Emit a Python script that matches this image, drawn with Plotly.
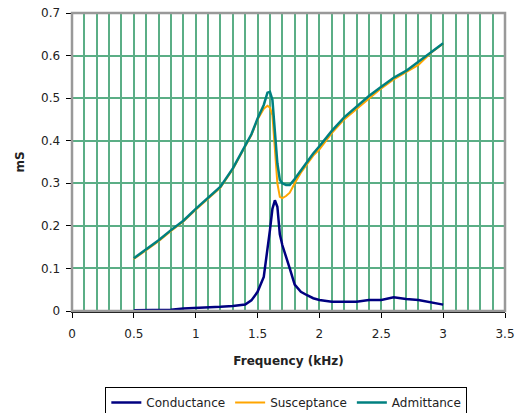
import plotly.graph_objects as go

freq = [0.5, 0.6, 0.7, 0.8, 0.9, 1.0, 1.1, 1.2, 1.3, 1.4, 1.45, 1.5, 1.55, 1.58, 1.6, 1.62,
        1.64, 1.66, 1.68, 1.70, 1.73, 1.76, 1.80, 1.85, 1.90, 1.95, 2.0, 2.1, 2.2, 2.3,
        2.4, 2.5, 2.6, 2.7, 2.8, 2.9, 3.0]

conductance = [0.002, 0.002, 0.002, 0.003, 0.006, 0.007, 0.008, 0.010, 0.012, 0.015, 0.025,
               0.045, 0.08, 0.14, 0.19, 0.24, 0.26, 0.245, 0.18, 0.155, 0.13, 0.10, 0.062,
               0.045, 0.037, 0.030, 0.026, 0.022, 0.022, 0.022, 0.026, 0.026, 0.032, 0.028,
               0.026, 0.020, 0.015]

susceptance = [0.122, 0.143, 0.164, 0.188, 0.210, 0.238, 0.263, 0.290, 0.333, 0.388, 0.413,
               0.450, 0.475, 0.482, 0.478, 0.460, 0.390, 0.300, 0.268, 0.265, 0.270, 0.278,
               0.300, 0.325, 0.345, 0.365, 0.380, 0.418, 0.450, 0.475, 0.500, 0.523, 0.544,
               0.560, 0.578, 0.606, 0.628]

admittance = [0.124, 0.145, 0.166, 0.190, 0.212, 0.240, 0.265, 0.292, 0.335, 0.390, 0.415,
              0.452, 0.484, 0.513, 0.515, 0.496, 0.420, 0.347, 0.308, 0.300, 0.296, 0.296,
              0.310, 0.330, 0.350, 0.370, 0.387, 0.423, 0.455, 0.480, 0.505, 0.527, 0.548,
              0.564, 0.585, 0.608, 0.629]

x_ticks = [0, 0.5, 1, 1.5, 2, 2.5, 3, 3.5]
y_ticks = [0, 0.1, 0.2, 0.3, 0.4, 0.5, 0.6, 0.7]

grid_color = "#5BAE86"
font = "DejaVu Sans, Arial, sans-serif"

fig = go.Figure()
fig.add_trace(go.Scatter(x=freq, y=conductance, mode="lines", name="Conductance",
                         line=dict(color="#000080", width=2.5)))
fig.add_trace(go.Scatter(x=freq, y=susceptance, mode="lines", name="Susceptance",
                         line=dict(color="#FFA500", width=2)))
fig.add_trace(go.Scatter(x=freq, y=admittance, mode="lines", name="Admittance",
                         line=dict(color="#008080", width=2.5)))

fig.update_layout(
    width=522, height=413,
    margin=dict(l=72, r=17, t=13, b=102, autoexpand=False),
    paper_bgcolor="white", plot_bgcolor="white",
    font=dict(family=font, size=12, color="#222"),
    showlegend=True,
    legend=dict(orientation="h", x=0.495, xanchor="center", y=-0.255, yanchor="top",
                bordercolor="black", borderwidth=1, itemwidth=30,
                font=dict(size=12, family=font), tracegroupgap=0),
    shapes=[dict(type="rect", xref="paper", yref="paper", x0=0, y0=0, x1=1, y1=1,
                 line=dict(color="#999999", width=2.5), layer="above")],
)

fig.update_xaxes(
    range=[0, 3.5], tickvals=x_ticks, ticktext=[str(v) for v in x_ticks],
    showgrid=True, gridcolor=grid_color, gridwidth=2,
    minor=dict(dtick=0.1, showgrid=True, gridcolor=grid_color, gridwidth=2),
    showline=True, linecolor="black", linewidth=1.5,
    ticks="outside", ticklen=5, tickcolor="black", ticklabelstandoff=6,
    ticklabeloverflow="allow",
    zeroline=False, automargin=False,
    title=dict(text="<b>Frequency (kHz)</b>", standoff=16, font=dict(size=12)),
)
fig.update_yaxes(
    range=[0, 0.7], tickvals=y_ticks, ticktext=[("%g" % v) for v in y_ticks],
    showgrid=True, gridcolor=grid_color, gridwidth=2,
    showline=True, linecolor="black", linewidth=1.5,
    ticks="outside", ticklen=5, tickcolor="black", ticklabelstandoff=3,
    ticklabeloverflow="allow",
    zeroline=False, automargin=False,
    title=dict(text="<b>mS</b>", standoff=14, font=dict(size=12)),
)

# remove the page's default body margin so the figure fills the window exactly
fig.write_html("out.html",
               config={"displayModeBar": False, "staticPlot": True},
               post_script="document.body.style.margin='0';document.body.style.overflow='hidden';")
